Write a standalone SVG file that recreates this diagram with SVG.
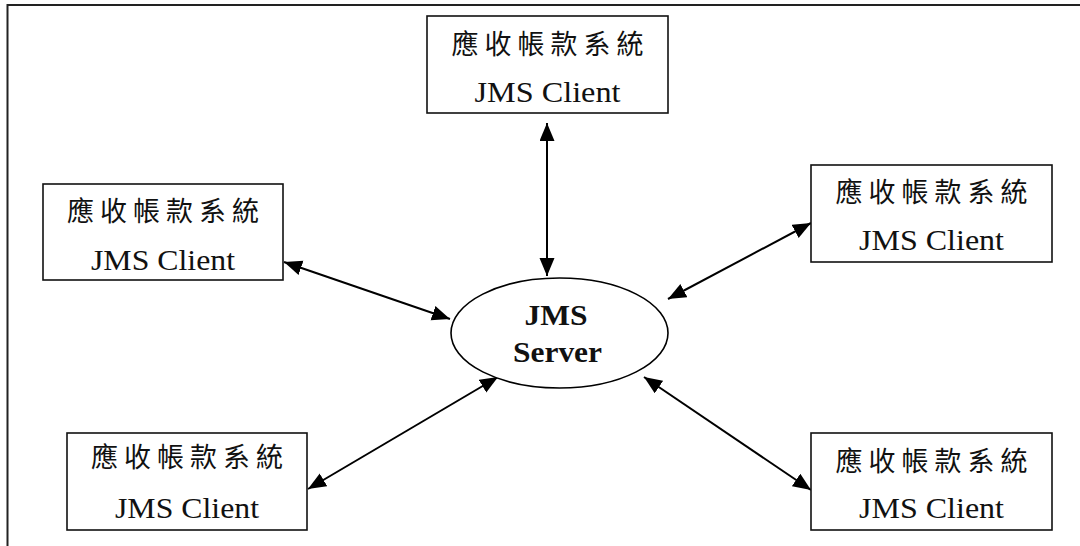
<svg xmlns="http://www.w3.org/2000/svg" width="1080" height="546" viewBox="0 0 1080 546">
  <defs>
    <marker id="head" markerUnits="userSpaceOnUse" markerWidth="20" markerHeight="16" refX="18" refY="7.5" orient="auto-start-reverse">
      <path d="M0,0 L18,7.5 L0,15 z" fill="#000"/>
    </marker>
    <style>
      .frame { fill: none; stroke: #222; stroke-width: 2; }
      .box { fill: #fff; stroke: #111; stroke-width: 1.6; }
      .server { fill: #fff; stroke: #000; stroke-width: 1.6; }
      .link { stroke: #000; stroke-width: 2; fill: none; marker-start: url(#head); marker-end: url(#head); }
      .zh { font-family: "Liberation Serif", "Noto Sans CJK TC", serif; font-size: 27px; fill: #111; text-anchor: middle; }
      .en { font-family: "Liberation Serif", serif; font-size: 30px; fill: #111; text-anchor: middle; }
      .bold { font-family: "Liberation Serif", serif; font-size: 30px; font-weight: bold; fill: #111; text-anchor: middle; }
    </style>
  </defs>

  <!-- outer frame: top and left edges -->
  <path class="frame" d="M7.5,546 V5 H1080"/>

  <g id="connectors">
    <line class="link" x1="547" y1="123" x2="547" y2="276"/>
    <line class="link" x1="284" y1="262" x2="450" y2="319"/>
    <line class="link" x1="811" y1="223" x2="668" y2="299"/>
    <line class="link" x1="308" y1="489" x2="498" y2="377"/>
    <line class="link" x1="811" y1="490" x2="644" y2="377"/>
  </g>

  <g id="client-top">
    <rect class="box" x="427" y="16" width="241" height="97"/>
    <text class="zh" x="547.5" y="54" textLength="192" lengthAdjust="spacing">應收帳款系統</text>
    <text class="en" x="547.5" y="102" textLength="146" lengthAdjust="spacingAndGlyphs">JMS Client</text>
  </g>

  <g id="client-left">
    <rect class="box" x="43" y="184" width="240" height="96"/>
    <text class="zh" x="163" y="221" textLength="192" lengthAdjust="spacing">應收帳款系統</text>
    <text class="en" x="163" y="270" textLength="144" lengthAdjust="spacingAndGlyphs">JMS Client</text>
  </g>

  <g id="client-right">
    <rect class="box" x="811" y="165" width="241" height="97"/>
    <text class="zh" x="931.5" y="202" textLength="192" lengthAdjust="spacing">應收帳款系統</text>
    <text class="en" x="931.5" y="250" textLength="145" lengthAdjust="spacingAndGlyphs">JMS Client</text>
  </g>

  <g id="client-bottom-left">
    <rect class="box" x="67" y="433" width="240" height="97"/>
    <text class="zh" x="187" y="467" textLength="192" lengthAdjust="spacing">應收帳款系統</text>
    <text class="en" x="187" y="518" textLength="144" lengthAdjust="spacingAndGlyphs">JMS Client</text>
  </g>

  <g id="client-bottom-right">
    <rect class="box" x="811" y="433" width="241" height="97"/>
    <text class="zh" x="931.5" y="471" textLength="192" lengthAdjust="spacing">應收帳款系統</text>
    <text class="en" x="931.5" y="518" textLength="145" lengthAdjust="spacingAndGlyphs">JMS Client</text>
  </g>

  <g id="server">
    <ellipse class="server" cx="559.5" cy="333" rx="108.5" ry="55"/>
    <text class="bold" x="556" y="325" textLength="63" lengthAdjust="spacingAndGlyphs">JMS</text>
    <text class="bold" x="557.5" y="362" textLength="89" lengthAdjust="spacingAndGlyphs">Server</text>
  </g>
</svg>
